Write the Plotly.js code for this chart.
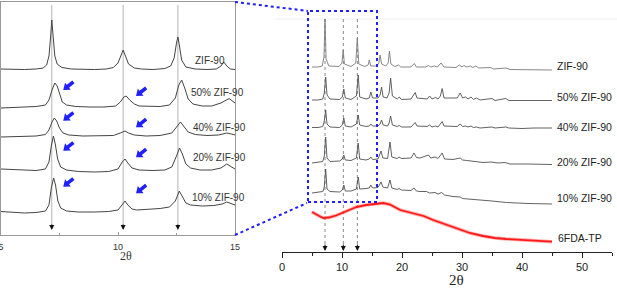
<!DOCTYPE html>
<html><head><meta charset="utf-8">
<script src="https://cdn.plot.ly/plotly-3.0.1.min.js"></script>
<style>html,body{margin:0;padding:0;background:#fff;}#chart{width:617px;height:288px;}</style>
</head><body><div id="chart"></div>
<script>
// ================= DATA =================
const seriesNames = ['ZIF-90', '50% ZIF-90', '40% ZIF-90', '20% ZIF-90', '10% ZIF-90'];
const polymerName = '6FDA-TP';
const refPeaks = [7.17, 10.22, 12.56];          // 2θ of ZIF-90 reference reflections
const shiftedPeaks = [7.66, 10.77];              // where the blue shift arrows point (2θ)

// ---- inset (2θ = 5–15), relative intensity ----
const insetZIF90X = [5.0,5.5,6.0,6.5,6.8,6.95,7.05,7.12,7.17,7.22,7.3,7.4,7.6,8.0,8.5,9.0,9.5,9.8,10.0,10.12,10.22,10.32,10.45,10.7,11.0,11.5,12.0,12.25,12.4,12.5,12.56,12.62,12.72,12.9,13.3,13.8,14.2,14.4,14.52,14.65,14.8,15.0];
const insetZIF90Y = [1,0.5,0.5,1,2,5,14,33,50,36,14,6,2.5,1,0.5,0.5,1,2.5,7,15,20,14,6,2,1,0.5,1.5,4,12,27,33,25,10,3,1,0.5,1,4,8,4,1,0.5];
const inset50X = [5.0,5.5,6.0,6.5,6.9,7.05,7.18,7.3,7.4,7.5,7.62,7.8,8.2,8.8,9.4,9.9,10.1,10.25,10.35,10.5,10.7,10.9,11.3,11.8,12.2,12.45,12.6,12.72,12.85,13.0,13.2,13.6,14.0,14.4,14.75,14.9,15.0];
const inset50Y = [0,0.5,1,1.5,3,8,18,25,22,14,6,3,1.5,1,1,2,6,11,12,8,4,2,1.5,1.5,3,10,23,28,20,9,4,2,2,5,9.5,7,5];
const inset40X = [5.0,5.5,6.0,6.5,6.9,7.05,7.18,7.28,7.38,7.5,7.65,7.9,8.5,9.2,9.8,10.1,10.3,10.45,10.7,11.2,11.8,12.3,12.5,12.67,12.8,13.0,13.3,13.8,14.3,14.65,14.85,15.0];
const inset40Y = [0,0.5,1,1,2.5,7,15,19,16,9,4,2,1,1,1.5,4,6,4,2,1,1.5,4,10,15,11,5,2.5,1.5,2,4,3,2];
const inset20X = [5.0,5.5,6.0,6.5,6.9,7.05,7.15,7.24,7.32,7.42,7.55,7.8,8.3,9.0,9.6,10.0,10.18,10.3,10.42,10.6,10.9,11.5,12.0,12.3,12.5,12.63,12.75,12.9,13.1,13.5,14.0,14.4,14.65,14.85,15.0];
const inset20Y = [3,2.5,2,1.5,3,10,26,36,28,13,5,2,0.5,0,0.5,3,10,13,9,4,2,1.5,2,5,16,24,18,8,4,2,2,4,8,5,3];
const inset10X = [5.0,5.5,6.0,6.5,6.9,7.05,7.15,7.25,7.33,7.43,7.55,7.8,8.3,9.0,9.6,10.0,10.18,10.3,10.42,10.6,10.8,11.2,11.8,12.2,12.45,12.62,12.75,12.9,13.1,13.6,14.1,14.45,14.65,14.85,15.0];
const inset10Y = [1.5,0.5,0,0.5,2,8,25,35,28,12,5,2,1,1,1.5,3,9,12,8,4,3,3.5,4.5,6,12,22,17,10,8,7,7.5,9,11,9,8];

// ---- main panel (2θ = 5–45), relative intensity ----
const mainZIF90X = [5,6,6.7,7.0,7.17,7.35,7.8,9.5,10.0,10.2,10.4,11.5,12.3,12.55,12.8,13.8,14.35,14.55,14.8,15.8,16.15,16.35,16.6,17.3,17.7,17.9,18.15,18.8,19.4,19.8,21.5,22.05,22.4,24.0,24.4,24.8,25.4,25.9,26.5,27.0,29.0,29.55,30.0,30.3,30.8,31.4,31.8,32.3,32.8,34.8,35.2,37.3,38.0,41.0,45.0];
const mainZIF90Y = [3,3,4,13,51,11,4,3.5,7,20,6,3.5,7,32,6,3.5,5,10,4,4,7,15,6,4,7,19,6,3.5,5,3,3,6.5,3,3,4.5,3,4,3,7,3,2.5,5,3,4.5,3,4,2.5,4,2,2.5,1,2,0.5,0.5,0];
const main50X = [5,6,6.8,7.05,7.28,7.5,8.0,9.6,10.05,10.3,10.55,11.5,12.4,12.7,12.95,14.0,14.55,14.8,15.1,16.0,16.35,16.6,16.85,17.5,17.85,18.1,18.4,19.2,19.55,19.9,21.5,22.0,22.2,22.5,24.2,24.6,25.0,25.6,26.0,26.4,26.7,27.0,29.2,29.7,30.1,30.6,31.0,31.5,31.9,32.4,33.0,35.0,35.5,37.3,37.8,40.0,42.0,43.0,45.0];
const main50Y = [1,1,2,8,24,6,2,1.5,4,12,3,1.5,5,26,4,2,3,9,3,3,6,14,4,3,8,23,5,2,4,1.5,2,7,8.5,3,2,5,2,3.5,2,5,12.5,3,3,8,3,4,2,4,1.5,3,1,2.5,0.5,2.5,0.5,0.5,1,0.5,0.5];
const main40X = [5,6,6.8,7.05,7.28,7.5,8.0,9.6,10.05,10.3,10.55,11.5,12.4,12.7,12.95,14.0,14.55,14.8,15.1,16.0,16.35,16.6,16.85,17.6,17.85,18.1,18.4,19.2,19.55,19.9,21.5,22.2,22.5,24.2,24.6,25.0,25.6,26.0,26.7,27.0,29.2,29.7,30.1,30.6,31.0,31.5,31.9,32.4,33.0,35.0,35.5,37.3,37.8,40.0,42.0,45.0];
const main40Y = [1.5,1.5,2.5,8,19,5,2,1.5,4,11,3,2,5,14,4,2.5,3,5,3,3,5,9,4,3,6,13,4,2.5,3.5,2,2,6.5,3,2.5,4,2,3,2,7.5,3,2.5,5,2.5,3,2,3,1.5,2,1,2,1,2,1,0.5,1,1];
const main20X = [5,6,6.8,7.05,7.28,7.5,8.0,9.6,10.05,10.3,10.55,11.5,12.4,12.7,12.95,14.0,14.55,14.8,15.1,16.0,16.5,16.8,17.6,18.0,18.3,19.2,19.5,19.9,21.5,22.0,22.4,23.0,24.4,24.8,25.5,26.0,26.7,27.1,28.5,29.7,30.1,30.8,31.5,32.3,33.5,34.8,36.0,37.2,38.0,41.0,45.0];
const main20Y = [2,2.5,3.5,9,28,7,3.5,4,6,10,5,4.5,7,22,6,5,6,8,5.5,6,14,7,6.5,23,8,6.5,8,6.5,7,12,7.5,7,10,7,8,6.5,12,6,5.5,7,5,4.5,4,3.5,2.5,3,2,2.5,1,1,0.5];
const main10X = [5,6,6.8,7.05,7.28,7.5,8.0,9.6,10.05,10.3,10.55,11.5,12.4,12.7,12.95,14.0,14.55,14.8,15.1,16.0,16.5,16.8,17.6,18.0,18.3,19.2,19.5,19.9,21.5,22.0,22.4,23.0,24.1,24.6,25.5,26.0,26.6,27.1,28.5,29.7,30.1,31.0,32.5,34.0,35.0,37.4,38.5,41.0,45.0];
const main10Y = [12,12.5,13.5,18,36,16,13.5,13,15,20,14,14,16,28,16,16.5,17,20,17,17.5,23,18,17,25,17,15.5,16.5,15,14.5,17,14,13.5,13.5,12,12.5,11,12.5,10,8.5,8,6.5,6,5,4,4,2.5,2,1.5,1];
const polymerX = [5.0,5.5,6.2,6.9,7.8,9.0,10.5,12.4,14.0,15.5,16.9,18.0,19.7,21.0,22.2,23.6,25.2,27.0,29.1,29.7,31.3,33.5,35.5,37.4,40.0,42.5,45.0];
const polymerY = [31,29,27,25,25.5,27.5,31,36,38,39,40,38.5,33,31,29,27,23,19,14.5,13.7,10,7,5,4,3,2,1.3];

// ================= LAYOUT CONSTANTS =================
const W = 617, H = 288;
const insetOffsets = [165, 127, 98, 63, 22];     // vertical stacking offsets (inset axis units)
const mainOffsets  = [182, 151, 123, 87, 47];    // vertical stacking offsets (main axis units)
const polymerOffset = 9;
const insetLabelX = [13.2, 13.03, 13.1, 13.1, 13.08];
const insetLabelY = [174, 143, 108, 78, 38];
const mainLabelY  = [186, 155, 125, 90, 54, 14];
const blueArrowY  = [[145,139],[114.3,107.7],[84.3,77.7],[48.3,41.7]];
const insetPxPerX = 23.4, insetPxPerY = 1;       // inset axis scale (pixels per unit)

const FONT = 'Liberation Sans, Arial, sans-serif';
const SERIF = 'Liberation Serif, Times New Roman, serif';

const insetX = [insetZIF90X, inset50X, inset40X, inset20X, inset10X];
const insetY = [insetZIF90Y, inset50Y, inset40Y, inset20Y, inset10Y];
const mainX = [mainZIF90X, main50X, main40X, main20X, main10X];
const mainY = [mainZIF90Y, main50Y, main40Y, main20Y, main10Y];

const traces = [];
insetX.forEach((xs, i) => {
  traces.push({x: xs, y: insetY[i].map(v => v + insetOffsets[i]), xaxis: 'x', yaxis: 'y',
    mode: 'lines', line: {color: '#444', width: 1}, hoverinfo: 'skip'});
});
mainX.forEach((xs, i) => {
  traces.push({x: xs, y: mainY[i].map(v => v + mainOffsets[i]), xaxis: 'x2', yaxis: 'y2',
    mode: 'lines', line: {color: i === 0 ? '#7a7a7a' : '#505050', width: 0.9}, hoverinfo: 'skip'});
});
traces.push({x: polymerX, y: polymerY.map(v => v + polymerOffset), xaxis: 'x2', yaxis: 'y2',
  mode: 'lines', line: {color: 'rgba(255,30,30,0.35)', width: 3.5}, hoverinfo: 'skip'});
traces.push({x: polymerX, y: polymerY.map(v => v + polymerOffset), xaxis: 'x2', yaxis: 'y2',
  mode: 'lines', line: {color: '#ff1a1a', width: 1.8}, hoverinfo: 'skip'});

const shapes = [];
const annotations = [];
const BLUE = '#1f1fff';

refPeaks.forEach(p => {
  shapes.push({type: 'line', xref: 'x', yref: 'y', x0: p, x1: p, y0: 7, y1: 230,
    line: {color: '#b5b5b5', width: 1}, layer: 'below'});
  annotations.push({x: p, y: 5, xref: 'x', yref: 'y', text: '', showarrow: true,
    ax: 0, ay: -7, arrowhead: 2, arrowsize: 1, arrowwidth: 1, arrowcolor: '#111'});
  shapes.push({type: 'line', xref: 'x2', yref: 'y2', x0: p, x1: p, y0: 8, y1: 233,
    line: {color: '#888', width: 1, dash: 'dot'}, layer: 'below'});
  annotations.push({x: p, y: 1, xref: 'x2', yref: 'y2', text: '', showarrow: true,
    ax: 0, ay: -8, arrowhead: 2, arrowsize: 1, arrowwidth: 1, arrowcolor: '#111'});
});

// zoom rectangle and connectors
shapes.push({type: 'rect', xref: 'paper', yref: 'paper', x0: 308/W, x1: 377/W, y0: 1-202/H, y1: 1-11/H,
  line: {color: BLUE, width: 2, dash: 'dot'}});
shapes.push({type: 'line', xref: 'paper', yref: 'paper', x0: 235/W, y0: 1-2/H, x1: 308/W, y1: 1-11/H,
  line: {color: BLUE, width: 2, dash: 'dot'}});
shapes.push({type: 'line', xref: 'paper', yref: 'paper', x0: 235/W, y0: 1-235/H, x1: 307/W, y1: 1-203/H,
  line: {color: BLUE, width: 2, dash: 'dot'}});
shapes.push({type: 'line', xref: 'paper', yref: 'paper', x0: 275/W, y0: 1-19/H, x1: 1, y1: 1-19/H,
  line: {color: '#efefef', width: 1}, layer: 'below'});

// blue block arrows (tip at the shifted peak, pointing down-left)
function blockArrow(tx, ty) {
  const ux = -10, uy = 8, len = Math.hypot(ux, uy);
  const u = [ux/len, uy/len], n = [u[1], -u[0]];
  const L = 13, hl = 6, hw = 4.6, sw = 1.8;
  const pts = [
    [0, 0],
    [-u[0]*hl + n[0]*hw, -u[1]*hl + n[1]*hw],
    [-u[0]*hl + n[0]*sw, -u[1]*hl + n[1]*sw],
    [-u[0]*L + n[0]*sw, -u[1]*L + n[1]*sw],
    [-u[0]*L - n[0]*sw, -u[1]*L - n[1]*sw],
    [-u[0]*hl - n[0]*sw, -u[1]*hl - n[1]*sw],
    [-u[0]*hl - n[0]*hw, -u[1]*hl - n[1]*hw]
  ];
  const d = pts.map((p, k) => (k ? 'L' : 'M') + (tx + p[0]/insetPxPerX).toFixed(4) + ',' + (ty - p[1]/insetPxPerY).toFixed(3)).join(' ') + ' Z';
  return {type: 'path', xref: 'x', yref: 'y', path: d, fillcolor: BLUE, line: {width: 0}};
}
blueArrowY.forEach(pair => {
  pair.forEach((yy, j) => shapes.push(blockArrow(shiftedPeaks[j], yy)));
});

// labels
seriesNames.forEach((n, i) => {
  annotations.push({x: insetLabelX[i], y: insetLabelY[i], xref: 'x', yref: 'y', text: n, showarrow: false,
    xanchor: 'left', yanchor: 'middle', font: {family: FONT, size: 10, color: '#333'}});
  annotations.push({x: 45.5, y: mainLabelY[i], xref: 'x2', yref: 'y2', text: n, showarrow: false,
    xanchor: 'left', yanchor: 'middle', font: {family: FONT, size: 10.5, color: '#222'}});
});
annotations.push({x: 45.7, y: mainLabelY[5], xref: 'x2', yref: 'y2', text: polymerName, showarrow: false,
  xanchor: 'left', yanchor: 'middle', font: {family: FONT, size: 10.5, color: '#222'}});

// axis titles
annotations.push({x: 457/W, y: 1-280/H, xref: 'paper', yref: 'paper', text: '2θ', showarrow: false,
  xanchor: 'center', yanchor: 'middle', font: {family: SERIF, size: 15, color: '#222'}});
annotations.push({x: 125.5/W, y: 1-256/H, xref: 'paper', yref: 'paper', text: '2θ', showarrow: false,
  xanchor: 'center', yanchor: 'middle', font: {family: SERIF, size: 12, color: '#333'}});

const layout = {
  width: W, height: H, margin: {l: 0, r: 0, t: 0, b: 0, pad: 0},
  paper_bgcolor: '#fff', plot_bgcolor: 'rgba(0,0,0,0)', showlegend: false,
  xaxis: {domain: [1/W, 235/W], range: [5, 15], anchor: 'y', showline: true, mirror: true,
    linecolor: '#999', linewidth: 1, ticks: 'inside', ticklen: 3, tickcolor: '#999', tick0: 5, dtick: 5,
    minor: {dtick: 2.5, ticks: 'inside', ticklen: 2, tickcolor: '#999'},
    tickfont: {family: FONT, size: 9, color: '#333'}, ticklabelstandoff: 3, ticklabeloverflow: 'allow',
    showgrid: false, zeroline: false},
  yaxis: {domain: [53/H, 286/H], range: [0, 233], anchor: 'x', showline: true, mirror: true,
    linecolor: '#999', linewidth: 1, ticks: '', showticklabels: false, showgrid: false, zeroline: false},
  xaxis2: {domain: [282/W, 612/W], range: [0, 55], anchor: 'y2', showline: true, linecolor: '#222',
    linewidth: 1, ticks: 'outside', ticklen: 5, tickcolor: '#222', tick0: 0, dtick: 10,
    minor: {dtick: 5, ticks: 'outside', ticklen: 3, tickcolor: '#222'},
    tickfont: {family: FONT, size: 11, color: '#222'}, showgrid: false, zeroline: false},
  yaxis2: {domain: [36/H, 1], range: [0, 252], anchor: 'x2', visible: false},
  shapes: shapes, annotations: annotations
};

Plotly.newPlot('chart', traces, layout, {staticPlot: true, displayModeBar: false});
</script>
</body></html>
